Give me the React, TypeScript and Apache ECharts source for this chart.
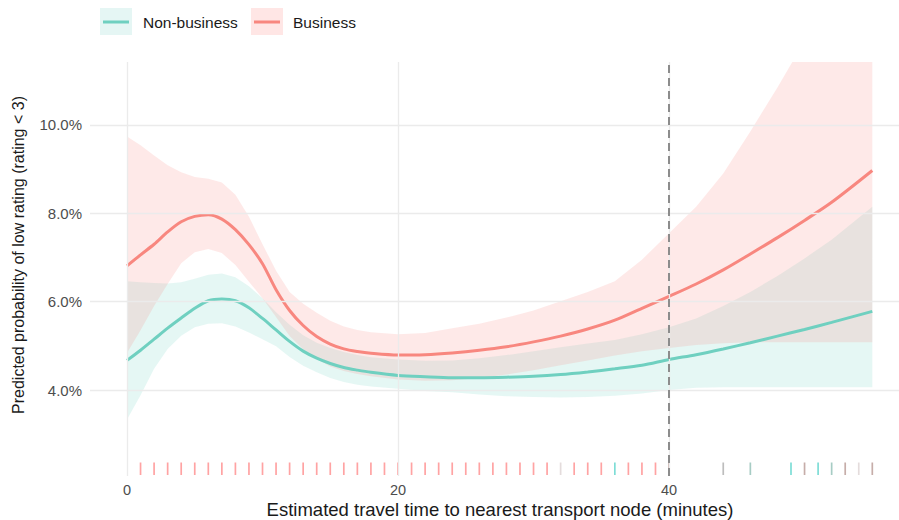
import React, { useEffect, useRef } from "react";
import * as echarts from "echarts";

// travel time grid (minutes)
const X = [0,1,2,3,4,5,6,7,8,9,10,11,12,13,14,15,16,17,18,20,22,24,26,28,30,32,34,36,38,40,42,44,46,48,50,52,55];

// Business: fitted probability (%) and confidence band
const BUS_FIT = [6.81,7.06,7.30,7.58,7.81,7.93,7.97,7.87,7.63,7.29,6.86,6.27,5.80,5.46,5.21,5.04,4.93,4.87,4.83,4.79,4.80,4.84,4.90,4.98,5.09,5.22,5.38,5.58,5.85,6.12,6.40,6.72,7.08,7.45,7.84,8.25,8.97];
const BUS_LO = [4.84,5.35,5.90,6.40,6.87,7.12,7.19,7.10,6.83,6.45,6.08,5.65,5.22,4.92,4.70,4.53,4.43,4.36,4.31,4.24,4.21,4.22,4.27,4.35,4.45,4.56,4.67,4.78,4.88,4.95,5.02,5.06,5.08,5.08,5.08,5.08,5.08];
const BUS_HI = [9.74,9.54,9.31,9.09,8.93,8.82,8.78,8.70,8.42,7.92,7.30,6.70,6.22,5.95,5.75,5.57,5.44,5.36,5.31,5.26,5.29,5.40,5.50,5.64,5.80,6.01,6.22,6.46,6.95,7.55,8.15,8.90,9.85,10.85,11.90,13.00,14.80];

// Non-business: fitted probability (%) and confidence band
const NON_FIT = [4.67,4.90,5.15,5.40,5.63,5.85,6.02,6.06,6.02,5.86,5.62,5.36,5.10,4.88,4.72,4.60,4.51,4.45,4.40,4.33,4.30,4.28,4.28,4.29,4.31,4.35,4.41,4.48,4.56,4.69,4.80,4.93,5.07,5.22,5.37,5.53,5.78];
const NON_LO = [3.33,3.88,4.48,4.93,5.23,5.42,5.50,5.51,5.44,5.30,5.15,4.99,4.75,4.55,4.40,4.27,4.18,4.12,4.08,4.03,3.98,3.95,3.90,3.86,3.84,3.83,3.84,3.87,3.92,4.00,4.05,4.06,4.06,4.06,4.06,4.06,4.06];
const NON_HI = [6.46,6.44,6.42,6.41,6.44,6.52,6.61,6.64,6.55,6.35,6.08,5.76,5.48,5.24,5.07,4.95,4.86,4.79,4.74,4.69,4.66,4.67,4.72,4.79,4.88,4.97,5.05,5.13,5.26,5.42,5.62,5.90,6.22,6.58,6.98,7.40,8.15];

// rug of observed travel times; kind: B business, N non-business, M both, G mostly non-business, L light, D grey
const RUG_X = [1,2,3,4,5,6,7,8,9,10,11,12,13,14,15,16,17,18,19,20,21,22,23,24,25,26,27,28,29,30,31,32,33,34,35,36,37,38,39,40,44,46,49,50,51,52,53,54,55];
const RUG_KIND = ["B","B","B","B","B","B","B","B","B","B","B","B","B","B","B","B","B","B","B","B","B","B","B","B","B","B","B","B","B","B","B","L","B","B","B","N","B","B","B","M","D","G","N","M","N","G","M","L","M"];

const X_TICKS = [0, 20, 40];
const Y_TICKS = [4, 6, 8, 10];
const CUTOFF = 40;

const SERIES_NAMES = ["Non-business", "Business"];
const X_TITLE = "Estimated travel time to nearest transport node (minutes)";
const Y_TITLE = "Predicted probability of low rating (rating < 3)";

const TEAL = "#6FD0C0";
const RED = "#F8877F";
const TEAL_FILL = "rgba(111,208,192,0.18)";
const RED_FILL = "rgba(248,135,127,0.18)";
const RUG_COLORS: Record<string, string> = {
  B: "#FFA3A3",
  N: "#7EDDD6",
  M: "#C6ADA9",
  G: "#A7CCC4",
  L: "#E4DCDC",
  D: "#BDBDBD",
};

const FONT = "'Liberation Sans', Arial, Helvetica, sans-serif";
const X_MIN = -2.73;
const X_MAX = 56.97;
const Y_MIN = 2.053;
const Y_MAX = 11.426;

function ribbonSeries(name: string, lo: number[], hi: number[], fill: string) {
  return {
    type: "custom",
    name,
    z: 1,
    silent: true,
    data: X.map((x, i) => [x, lo[i], hi[i]]),
    renderItem: (params: any, api: any) => {
      if (params.dataIndex !== 0) return null;
      const upper = X.map((x, i) => api.coord([x, hi[i]]));
      const lower = X.map((x, i) => api.coord([x, lo[i]])).reverse();
      const cs = params.coordSys;
      return {
        type: "polygon",
        shape: { points: upper.concat(lower) },
        style: { fill },
        clipPath: { type: "rect", shape: { x: cs.x, y: cs.y, width: cs.width, height: cs.height } },
      };
    },
  };
}

export default function App() {
  const ref = useRef<HTMLDivElement>(null);

  useEffect(() => {
    if (!ref.current) return;
    const chart = echarts.init(ref.current, undefined, { renderer: "svg" });

    const pts = (arr: number[]) => X.map((x, i) => [x, arr[i]]);

    const lineCommon = {
      type: "line",
      smooth: 0.3,
      showSymbol: false,
      symbol: "none",
      silent: true,
      clip: true,
    };

    const option: any = {
      animation: false,
      backgroundColor: "#ffffff",
      grid: {
        left: 90,
        right: 0,
        top: 62,
        bottom: 44,
        containLabel: false,
        outerBoundsMode: "none",
      },
      xAxis: {
        type: "value",
        min: X_MIN,
        max: X_MAX,
        axisLine: { show: false },
        axisTick: { show: false },
        splitLine: { show: false },
        axisLabel: {
          customValues: X_TICKS,
          color: "#4D4D4D",
          fontSize: 14.5,
          fontFamily: FONT,
          margin: 6,
        },
      },
      yAxis: {
        type: "value",
        min: Y_MIN,
        max: Y_MAX,
        axisLine: { show: false },
        axisTick: { show: false },
        splitLine: { show: false },
        axisLabel: {
          customValues: Y_TICKS,
          formatter: (v: number) => `${v.toFixed(1)}%`,
          color: "#4D4D4D",
          fontSize: 15,
          fontFamily: FONT,
          margin: 8,
        },
      },
      graphic: [
        {
          type: "text",
          x: 18,
          y: 255,
          rotation: Math.PI / 2,
          style: {
            text: Y_TITLE,
            font: `16px ${FONT}`,
            fill: "#1A1A1A",
            textAlign: "center",
            textVerticalAlign: "middle",
          },
        },
        {
          type: "text",
          x: 500,
          y: 509,
          style: {
            text: X_TITLE,
            font: `18.5px ${FONT}`,
            fill: "#1A1A1A",
            textAlign: "center",
            textVerticalAlign: "middle",
          },
        },
        { type: "rect", shape: { x: 100, y: 8, width: 32, height: 27 }, style: { fill: "#E5F6F4" } },
        { type: "line", shape: { x1: 103, y1: 22, x2: 129, y2: 22 }, style: { stroke: TEAL, lineWidth: 3 } },
        {
          type: "text",
          x: 143,
          y: 22,
          style: { text: SERIES_NAMES[0], font: `15.5px ${FONT}`, fill: "#1A1A1A", textVerticalAlign: "middle" },
        },
        { type: "rect", shape: { x: 251, y: 8, width: 32, height: 27 }, style: { fill: "#FFE6E5" } },
        { type: "line", shape: { x1: 254, y1: 22, x2: 280, y2: 22 }, style: { stroke: RED, lineWidth: 3 } },
        {
          type: "text",
          x: 293,
          y: 22,
          style: { text: SERIES_NAMES[1], font: `15.5px ${FONT}`, fill: "#1A1A1A", textVerticalAlign: "middle" },
        },
      ],
      series: [
        {
          type: "line",
          name: "grid",
          z: 0,
          data: [[X[0], NON_FIT[0]]],
          showSymbol: false,
          symbol: "none",
          lineStyle: { opacity: 0 },
          silent: true,
          markLine: {
            silent: true,
            symbol: ["none", "none"],
            label: { show: false },
            lineStyle: { color: "#EBEBEB", width: 1.3, type: "solid" },
            data: [
              ...Y_TICKS.map((v) => ({ yAxis: v })),
              ...X_TICKS.map((v) => ({ xAxis: v })),
            ],
          },
        },
        ribbonSeries("nonBand", NON_LO, NON_HI, TEAL_FILL),
        ribbonSeries("busBand", BUS_LO, BUS_HI, RED_FILL),
        {
          ...lineCommon,
          name: SERIES_NAMES[0],
          z: 3,
          data: pts(NON_FIT),
          lineStyle: { color: TEAL, width: 3 },
        },
        {
          ...lineCommon,
          name: SERIES_NAMES[1],
          z: 3,
          data: pts(BUS_FIT),
          lineStyle: { color: RED, width: 3 },
        },
        {
          type: "custom",
          name: "rug",
          z: 4,
          silent: true,
          data: RUG_X.map((x) => [x]),
          renderItem: (params: any, api: any) => {
            const x = api.value(0);
            const p = api.coord([x, Y_MIN]);
            const kind = RUG_KIND[params.dataIndex];
            return {
              type: "line",
              shape: { x1: p[0], y1: p[1] - 1, x2: p[0], y2: p[1] - 13.5 },
              style: { stroke: RUG_COLORS[kind], lineWidth: 1.7 },
            };
          },
        },
        {
          type: "line",
          name: "cutoff",
          z: 6,
          data: [[X[0], NON_FIT[0]]],
          showSymbol: false,
          symbol: "none",
          lineStyle: { opacity: 0 },
          silent: true,
          markLine: {
            silent: true,
            symbol: ["none", "none"],
            label: { show: false },
            lineStyle: { color: "#8C8C8C", width: 2, type: [8, 5] },
            data: [{ xAxis: CUTOFF }],
          },
        },
      ],
    };

    chart.setOption(option);
    return () => chart.dispose();
  }, []);

  return (
    <div
      ref={ref}
      style={{ position: "fixed", left: 0, top: 0, width: 899, height: 520 }}
    />
  );
}
